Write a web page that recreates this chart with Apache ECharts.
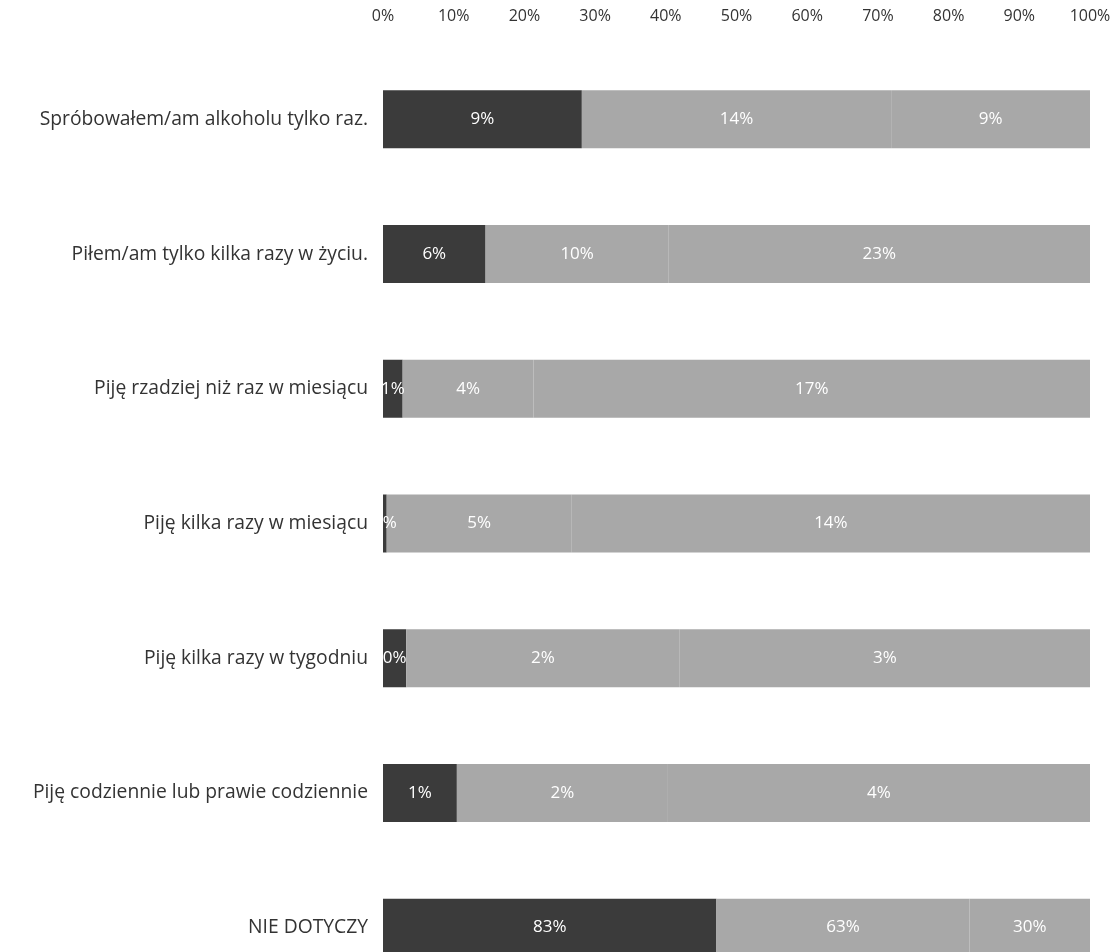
<!DOCTYPE html>
<html>
<head>
<meta charset="utf-8">
<script src="https://cdn.jsdelivr.net/npm/echarts@6/dist/echarts.min.js"></script>
<style>
html,body{margin:0;padding:0;background:#fff;overflow:hidden;}
#chart{width:1119px;height:995px;}
</style>
</head>
<body>
<div id="chart"></div>
<script>
const categories = [
  "Spróbowałem/am alkoholu tylko raz.",
  "Piłem/am tylko kilka razy w życiu.",
  "Piję rzadziej niż raz w miesiącu",
  "Piję kilka razy w miesiącu",
  "Piję kilka razy w tygodniu",
  "Piję codziennie lub prawie codziennie",
  "NIE DOTYCZY"
];
const seriesA = [9, 5.6, 0.6, 0.1, 0.17, 0.7, 83];
const seriesB = [14, 10, 4, 5, 2, 2, 63];
const seriesC = [9, 23, 17, 14, 3, 4, 30];
const tickLabels = ["0%","10%","20%","30%","40%","50%","60%","70%","80%","90%","100%"];

const totals = categories.map((_, i) => seriesA[i] + seriesB[i] + seriesC[i]);
function share(arr) {
  return arr.map((v, i) => ({ value: v / totals[i] * 100, raw: v }));
}
const labelCfg = {
  show: true,
  position: 'inside',
  color: '#ffffff',
  fontSize: 17,
  fontFamily: 'Open Sans, sans-serif',
  formatter: p => Math.round(p.data.raw) + '%'
};
const colors = ['#3b3b3b', '#a8a8a8', '#a8a8a8'];
const names = ['A', 'B', 'C'];
const chart = echarts.init(document.getElementById('chart'));
chart.setOption({
  backgroundColor: '#ffffff',
  animation: false,
  grid: { left: 383, right: 29, top: 52, bottom: 0 },
  xAxis: {
    type: 'value',
    position: 'top',
    min: 0, max: 100, interval: 10,
    axisLine: { show: false },
    axisTick: { show: false },
    splitLine: { show: false },
    axisLabel: {
      margin: 28,
      color: '#333',
      fontSize: 16,
      fontFamily: 'Open Sans, sans-serif',
      formatter: v => tickLabels[Math.round(v / 10)]
    }
  },
  yAxis: {
    type: 'category',
    inverse: true,
    data: categories,
    axisLine: { show: false },
    axisTick: { show: false },
    axisLabel: {
      margin: 15,
      color: '#333',
      fontSize: 19.3,
      fontFamily: 'Open Sans, sans-serif'
    }
  },
  series: [seriesA, seriesB, seriesC].map((arr, k) => ({
    name: names[k],
    type: 'bar',
    stack: 'total',
    barWidth: 58,
    itemStyle: { color: colors[k] },
    label: labelCfg,
    data: share(arr)
  }))
});
</script>
</body>
</html>
